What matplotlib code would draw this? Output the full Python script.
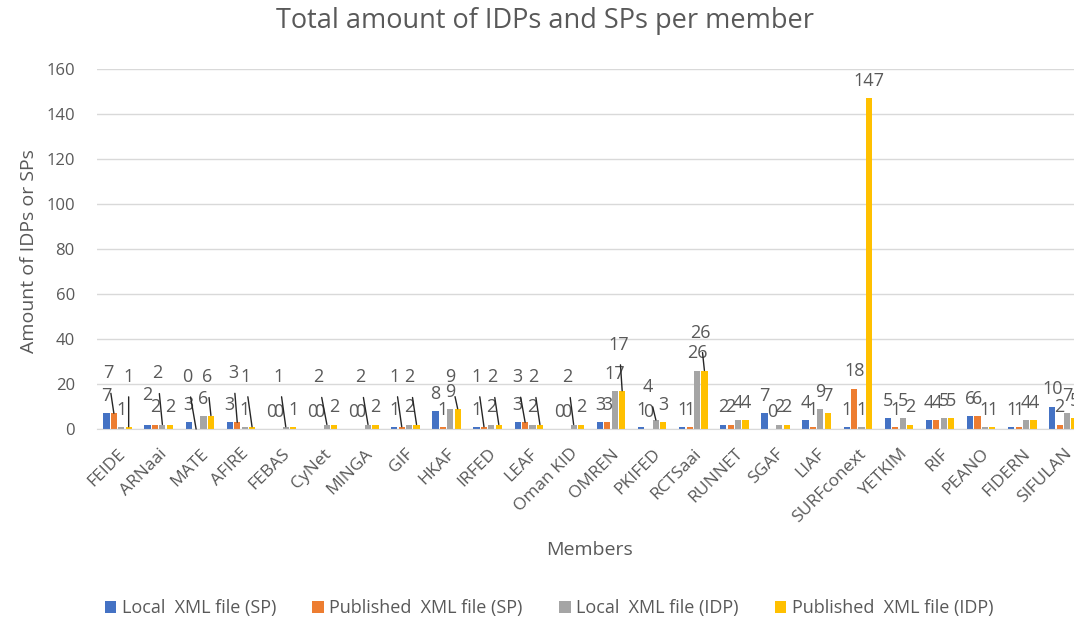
import matplotlib
matplotlib.use("Agg")
import matplotlib.pyplot as plt
import numpy as np

members = ["FEIDE", "ARNaai", "MATE", "AFIRE", "FEBAS", "CyNet", "MINGA", "GIF",
           "HKAF", "IRFED", "LEAF", "Oman KID", "OMREN", "PKIFED", "RCTSaai",
           "RUNNET", "SGAF", "LIAF", "SURFconext", "YETKIM", "RIF", "PEANO",
           "FIDERN", "SIFULAN"]
local_sp = [7, 2, 3, 3, 0, 0, 0, 1, 8, 1, 3, 0, 3, 1, 1, 2, 7, 4, 1, 5, 4, 6, 1, 10]
published_sp = [7, 2, 0, 3, 0, 0, 0, 1, 1, 1, 3, 0, 3, 0, 1, 2, 0, 1, 18, 1, 4, 6, 1, 2]
local_idp = [1, 2, 6, 1, 1, 2, 2, 2, 9, 2, 2, 2, 17, 4, 26, 4, 2, 9, 1, 5, 5, 1, 4, 7]
published_idp = [1, 2, 6, 1, 1, 2, 2, 2, 9, 2, 2, 2, 17, 3, 26, 4, 2, 7, 147, 2, 5, 1, 4, 5]
series_names = ["Local  XML file (SP)", "Published  XML file (SP)",
                "Local  XML file (IDP)", "Published  XML file (IDP)"]
yticks = [0, 20, 40, 60, 80, 100, 120, 140, 160]

# data-label placement (pixel offsets from bar top); moved labels get leader lines
label_moved = {
    ("FEIDE", 1): (-6, 40), ("FEIDE", 3): (0, 50),
    ("ARNaai", 2): (-5, 51),
    ("MATE", 1): (-9, 52), ("MATE", 3): (-4, 38),
    ("AFIRE", 1): (-4, 49), ("AFIRE", 3): (-7, 50),
    ("FEBAS", 2): (-7, 50),
    ("CyNet", 2): (-9, 47),
    ("MINGA", 2): (-8, 47),
    ("GIF", 1): (-7, 50), ("GIF", 3): (-7, 47),
    ("HKAF", 3): (-7, 32),
    ("IRFED", 1): (-7, 50), ("IRFED", 3): (-7, 47),
    ("LEAF", 1): (-8, 45), ("LEAF", 3): (-7, 47),
    ("Oman KID", 2): (-6, 47),
    ("OMREN", 3): (-3, 46),
    ("PKIFED", 2): (-8, 33),
    ("RCTSaai", 3): (-4, 38),
}
label_shift = {("ARNaai", 0): (0, 30)}

colors = ["#4472C4", "#ED7D31", "#A5A5A5", "#FFC000"]
txt = "#595959"
plt.rcParams['font.family'] = ['Open Sans', 'DejaVu Sans']

W, H = 1074, 621
fig = plt.figure(figsize=(W / 100, H / 100), dpi=100)
left, right = 97, 1084
bottom, top = 429, 69
ax = fig.add_axes([left / W, 1 - bottom / H, (right - left) / W, (bottom - top) / H])

x = np.arange(len(members))
step = 0.18
bw = 0.15
data = [local_sp, published_sp, local_idp, published_idp]
for i, (vals, c, name) in enumerate(zip(data, colors, series_names)):
    pos = x + (i - 1.5) * step
    ax.bar(pos, vals, width=bw, color=c, label=name, zorder=2)
    for m, p, v in zip(members, pos, vals):
        key = (m, i)
        if key in label_moved:
            dx, dy = label_moved[key]
            ax.annotate(str(v), xy=(p, v), xytext=(dx, dy),
                        textcoords="offset pixels", ha="center", va="center",
                        fontsize=13, color=txt, zorder=4,
                        arrowprops=dict(arrowstyle="-", color="#262626", lw=1,
                                        shrinkA=6, shrinkB=0))
        else:
            dx, dy = label_shift.get(key, (0, 17))
            ax.annotate(str(v), xy=(p, v), xytext=(dx, dy),
                        textcoords="offset pixels", ha="center", va="center",
                        fontsize=13, color=txt, zorder=4)

ax.set_xlim(-0.5, len(members) - 0.5)
ax.set_ylim(0, 160)
ax.set_yticks(yticks)
ax.set_xticks(x)
ax.set_xticklabels(members, rotation=45, ha="right", rotation_mode="anchor",
                   fontsize=12.5, color=txt)
ax.tick_params(axis="y", labelsize=12, colors=txt, length=0, pad=16)
ax.tick_params(axis="x", length=0, pad=12)
ax.grid(axis="y", color="#D9D9D9", linewidth=1, zorder=0)
for s in ["top", "right", "left"]:
    ax.spines[s].set_visible(False)
ax.spines["bottom"].set_color("#D9D9D9")
ax.set_axisbelow(True)

fig.text(545 / W, 1 - 21 / H, "Total amount of IDPs and SPs per member",
         ha="center", va="center", fontsize=19.5, color=txt)
fig.text(590 / W, 1 - 550 / H, "Members", ha="center", va="center",
         fontsize=14, color=txt)
fig.text(29 / W, 1 - 251 / H, "Amount of IDPs or SPs", ha="center",
         va="center", rotation=90, fontsize=14, color=txt)

handles, labels = ax.get_legend_handles_labels()
fig.legend(handles, labels, loc="center", bbox_to_anchor=(549 / W, 1 - 608 / H),
           ncol=4, frameon=False, fontsize=13, labelcolor=txt,
           handlelength=0.65, handleheight=0.65, handletextpad=0.3,
           columnspacing=2.0)

fig.savefig("out.png", dpi=100)
